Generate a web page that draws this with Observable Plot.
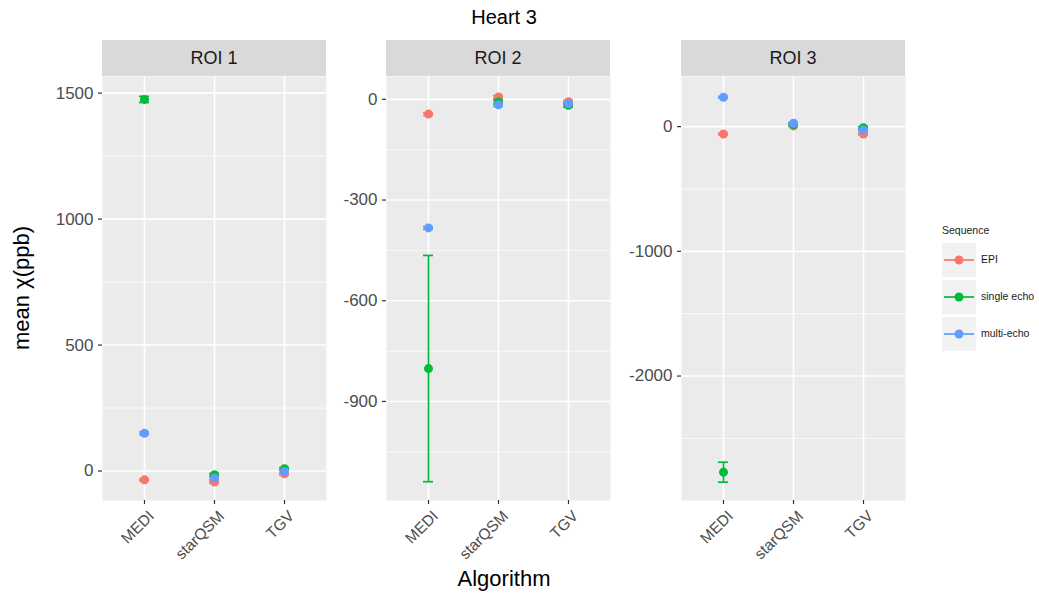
<!DOCTYPE html>
<html><head><meta charset="utf-8">
<script src="https://cdn.jsdelivr.net/npm/d3@7"></script>
<script src="https://cdn.jsdelivr.net/npm/@observablehq/plot@0.6"></script>
<style>
body{margin:0;background:#fff;font-family:"Liberation Sans",Arial,sans-serif;}
#chart{position:relative;width:1039px;height:596px;overflow:hidden;}
.abs{position:absolute;}
.strip{position:absolute;background:#d9d9d9;color:#1a1a1a;font-size:18px;text-align:center;line-height:36px;height:36px;width:224px;top:40px;}
.lab{position:absolute;font-size:10.5px;color:#1a1a1a;}
</style></head><body><div id="chart"></div>
<script>
const rois = ["ROI 1", "ROI 2", "ROI 3"];
const algorithms = ["MEDI", "starQSM", "TGV"];
const sequences = ["EPI", "single echo", "multi-echo"];
const seqColors = ["#F8766D", "#00BA38", "#619CFF"];

// mean χ (ppb): rows = sequences (EPI, single echo, multi-echo), cols = algorithms
const roi1Mean = [[-35, -44, -11], [1475, -15, 9], [150, -28, -2]];
const roi2Mean = [[-44, 7, -7], [-802, -8, -18], [-383, -16, -13]];
const roi3Mean = [[-59, 6, -59], [-2771, 15, -8], [236, 27, -27]];
// error half-widths
const roi1Err = [[4, 4, 4], [12, 5, 4], [5, 5, 4]];
const roi2Err = [[4, 4, 4], [337, 6, 5], [4, 5, 4]];
const roi3Err = [[6, 5, 6], [80, 8, 8], [6, 5, 6]];

const roi1Ticks = [0, 500, 1000, 1500];
const roi2Ticks = [-900, -600, -300, 0];
const roi3Ticks = [-2000, -1000, 0];
const roi1Minor = [250, 750, 1250];
const roi2Minor = [-1050, -750, -450, -150];
const roi3Minor = [-2500, -1500, -500];
const roi1Domain = [-117, 1566];
const roi2Domain = [-1195, 68];
const roi3Domain = [-2998, 402];

const means = [roi1Mean, roi2Mean, roi3Mean];
const errs = [roi1Err, roi2Err, roi3Err];
const ticks = [roi1Ticks, roi2Ticks, roi3Ticks];
const minors = [roi1Minor, roi2Minor, roi3Minor];
const domains = [roi1Domain, roi2Domain, roi3Domain];

const data = [];
rois.forEach((roi, ri) => sequences.forEach((seq, si) => algorithms.forEach((alg, ai) => {
  data.push({roi, seq, alg, mean: means[ri][si][ai], err: errs[ri][si][ai]});
})));

const chart = document.getElementById("chart");
const panelLeft = [102, 386, 681];
const panelW = 224;
const mL = 62, mT = 10, plotH = 424, mB = 90;

rois.forEach((roi, i) => {
  const rows = data.filter(d => d.roi === roi);
  const p = Plot.plot({
    width: mL + panelW, height: mT + plotH + mB,
    marginLeft: mL, marginRight: 0, marginTop: mT, marginBottom: mB,
    style: {background: "transparent", overflow: "visible", fontFamily: "Liberation Sans, Arial, sans-serif"},
    x: {domain: algorithms, type: "point", padding: 0.6, label: null, axis: null},
    y: {domain: domains[i], label: null, axis: null},
    color: {domain: sequences, range: seqColors},
    marks: [
      Plot.frame({fill: "#ebebeb", stroke: "none"}),
      Plot.gridY(minors[i], {stroke: "white", strokeOpacity: 1, strokeWidth: 0.8}),
      Plot.gridY(ticks[i], {stroke: "white", strokeOpacity: 1, strokeWidth: 1.6}),
      Plot.gridX(algorithms, {stroke: "white", strokeOpacity: 1, strokeWidth: 1.6}),
      Plot.axisY(ticks[i], {tickSize: 4, tickPadding: 5, fontSize: 17, fill: "#4d4d4d", stroke: "#333", strokeWidth: 1.2, label: null, tickFormat: d => String(d)}),
      Plot.axisX(algorithms, {tickSize: 4, stroke: "#333", strokeWidth: 1.2, label: null, tickFormat: () => ""}),
      Plot.axisX(algorithms, {tickSize: 0, tickPadding: 6, tickRotate: -45, fontSize: 15.5, fill: "#4d4d4d", label: null, dx: 7, dy: 7}),
      Plot.ruleX(rows, {x: "alg", y1: d => d.mean - d.err, y2: d => d.mean + d.err, stroke: "seq", strokeWidth: 1.7}),
      Plot.ruleY(rows, {x1: "alg", x2: "alg", y: d => d.mean - d.err, stroke: "seq", strokeWidth: 1.7, insetLeft: -5, insetRight: -5}),
      Plot.ruleY(rows, {x1: "alg", x2: "alg", y: d => d.mean + d.err, stroke: "seq", strokeWidth: 1.7, insetLeft: -5, insetRight: -5}),
      Plot.dot(rows, {x: "alg", y: "mean", fill: "seq", r: 4.5, stroke: "none"})
    ]
  });
  p.classList.add("abs");
  p.style.left = (panelLeft[i] - mL) + "px";
  p.style.top = (76 - mT) + "px";
  chart.appendChild(p);
  const s = document.createElement("div");
  s.className = "strip";
  s.style.left = panelLeft[i] + "px";
  s.textContent = roi;
  chart.appendChild(s);
});

// Title
const t = document.createElement("div");
t.className = "abs";
t.style.cssText = "left:103px;width:802px;top:6px;text-align:center;font-size:20px;color:#000;";
t.textContent = "Heart 3";
chart.appendChild(t);

// x title
const xt = document.createElement("div");
xt.className = "abs";
xt.style.cssText = "left:103px;width:802px;top:566px;text-align:center;font-size:22px;color:#000;";
xt.textContent = "Algorithm";
chart.appendChild(xt);

// y title
const yt = document.createElement("div");
yt.className = "abs";
yt.style.cssText = "left:22px;top:288px;font-size:22px;color:#000;white-space:nowrap;transform:translate(-50%,-50%) rotate(-90deg);";
yt.textContent = "mean χ(ppb)";
chart.appendChild(yt);

// Legend
const lt = document.createElement("div");
lt.className = "lab";
lt.style.left = "942px"; lt.style.top = "224px";
lt.textContent = "Sequence";
chart.appendChild(lt);
const keyTops = [243, 280, 317];
sequences.forEach((seq, i) => {
  const k = document.createElementNS("http://www.w3.org/2000/svg", "svg");
  k.setAttribute("width", 34); k.setAttribute("height", 34);
  k.setAttribute("class", "abs");
  k.style.left = "942px"; k.style.top = keyTops[i] + "px";
  k.innerHTML = `<rect width="34" height="34" fill="#f2f2f2"/><line x1="2" x2="32" y1="17" y2="17" stroke="${seqColors[i]}" stroke-width="1.7"/><circle cx="17" cy="17" r="4.5" fill="${seqColors[i]}"/>`;
  chart.appendChild(k);
  const l = document.createElement("div");
  l.className = "lab";
  l.style.left = "981px"; l.style.top = (keyTops[i] + 10) + "px";
  l.textContent = seq;
  chart.appendChild(l);
});
</script></body></html>
